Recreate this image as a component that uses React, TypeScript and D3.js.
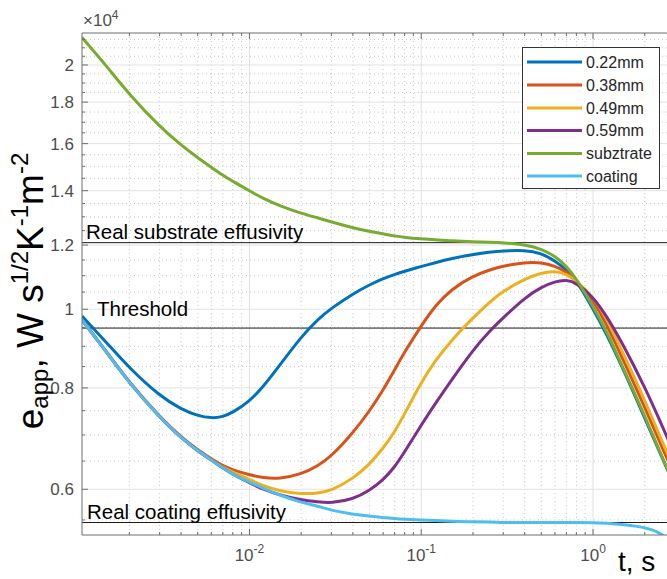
import React from "react";
import * as d3 from "d3";

// time axis, s
const times = [
  0.00106, 0.0015, 0.002, 0.003, 0.004, 0.005, 0.006, 0.007, 0.008, 0.01, 0.012, 0.015, 0.02,
  0.025, 0.03, 0.04, 0.05, 0.06, 0.07, 0.08, 0.1, 0.12, 0.15, 0.2, 0.25, 0.3, 0.4, 0.5, 0.6,
  0.7, 0.8, 1.0, 1.2, 1.5, 2.0, 2.5, 3.0,
];

// apparent effusivity, x1e4
const e022 = [
  0.981, 0.906, 0.846, 0.782, 0.753, 0.739, 0.734, 0.737, 0.746, 0.77, 0.802, 0.853, 0.925, 0.972,
  1.003, 1.045, 1.072, 1.091, 1.104, 1.114, 1.129, 1.141, 1.155, 1.168, 1.176, 1.18, 1.183, 1.173,
  1.147, 1.118, 1.087, 1.001, 0.932, 0.844, 0.734, 0.659, 0.604,
];
const e038 = [
  0.971, 0.882, 0.812, 0.737, 0.696, 0.671, 0.654, 0.641, 0.634, 0.625, 0.62, 0.618, 0.626,
  0.641, 0.659, 0.704, 0.749, 0.795, 0.842, 0.886, 0.954, 1.009, 1.059, 1.099, 1.118, 1.131,
  1.142, 1.142, 1.131, 1.112, 1.087, 1.027, 0.959, 0.866, 0.758, 0.678, 0.623,
];
const e049 = [
  0.97, 0.881, 0.811, 0.736, 0.694, 0.669, 0.652, 0.638, 0.63, 0.617, 0.606, 0.597, 0.592, 0.593,
  0.598, 0.618, 0.644, 0.674, 0.706, 0.743, 0.813, 0.863, 0.916, 0.976, 1.021, 1.053, 1.09, 1.109,
  1.115, 1.105, 1.084, 1.036, 0.976, 0.881, 0.773, 0.69, 0.633,
];
const e059 = [
  0.97, 0.881, 0.811, 0.736, 0.694, 0.669, 0.652, 0.637, 0.626, 0.611, 0.6, 0.59, 0.582, 0.579,
  0.577, 0.583, 0.598, 0.616, 0.639, 0.667, 0.72, 0.764, 0.818, 0.891, 0.94, 0.976, 1.033, 1.065,
  1.082, 1.087, 1.078, 1.036, 0.981, 0.904, 0.802, 0.722, 0.661,
];
const eSubstrate = [
  2.162, 1.985, 1.839, 1.679, 1.593, 1.537, 1.496, 1.462, 1.438, 1.399, 1.37, 1.341, 1.313, 1.296,
  1.281, 1.26, 1.247, 1.239, 1.231, 1.226, 1.221, 1.218, 1.214, 1.211, 1.209, 1.207, 1.202, 1.187,
  1.163, 1.131, 1.09, 1.009, 0.94, 0.846, 0.739, 0.661, 0.605,
];
const eCoating = [
  0.97, 0.881, 0.811, 0.736, 0.694, 0.669, 0.652, 0.637, 0.626, 0.612, 0.602, 0.59, 0.578, 0.572,
  0.565, 0.559, 0.556, 0.554, 0.552, 0.551, 0.55, 0.549, 0.548, 0.547, 0.547, 0.546, 0.546, 0.546,
  0.546, 0.546, 0.546, 0.546, 0.545, 0.543, 0.539, 0.53, 0.512,
];

const seriesValues = [e022, e038, e049, e059, eSubstrate, eCoating];
const seriesLabels = ["0.22mm", "0.38mm", "0.49mm", "0.59mm", "subztrate", "coating"];
const seriesColors = ["#0072BD", "#D95319", "#EDB120", "#7E2F8E", "#77AC30", "#4DBEEE"];

const refValues = [1.208, 0.948, 0.546];
const refLabels = ["Real substrate effusivity", "Threshold", "Real coating effusivity"];

const yTickValues = [0.6, 0.8, 1, 1.2, 1.4, 1.6, 1.8, 2];
const yTickLabels = ["0.6", "0.8", "1", "1.2", "1.4", "1.6", "1.8", "2"];
const yMinorTicks = [
  0.55, 0.65, 0.7, 0.75, 0.85, 0.9, 0.95, 1.05, 1.1, 1.15, 1.25, 1.3, 1.35, 1.45, 1.5, 1.55,
  1.65, 1.7, 1.75, 1.85, 1.9, 1.95, 2.05, 2.1, 2.15,
];
const xTickValues = [0.01, 0.1, 1];
const xTickExponents = ["-2", "-1", "0"];

const W = 667;
const H = 579;
const margin = { left: 82, top: 33, right: 675, bottom: 535 };
const font = "'Liberation Sans', Arial, Helvetica, sans-serif";

export default function App() {
  const x = d3.scaleLog().domain([0.00106, 3]).range([margin.left, margin.right]);
  const y = d3.scaleLog().domain([0.527, 2.19]).range([margin.bottom, margin.top]);

  // log minor ticks 2..9 per decade
  const xMinor: number[] = [];
  [0.001, 0.01, 0.1, 1].forEach((d) => {
    for (let k = 2; k <= 9; k++) {
      const v = d * k;
      if (v >= 0.00106 && v <= 3) xMinor.push(v);
    }
  });

  const line = d3
    .line<number>()
    .x((_, i) => x(times[i]))
    .y((d) => y(d))
    .curve(d3.curveBasis);

  const legendRows = [62, 85, 108, 130.5, 153.5, 176];

  return (
    <svg
      width={W}
      height={H}
      style={{ position: "absolute", left: 0, top: 0, background: "#fff", fontFamily: font }}
    >
      <defs>
        <clipPath id="plot">
          <rect x={margin.left} y={margin.top} width={margin.right - margin.left} height={margin.bottom - margin.top} />
        </clipPath>
      </defs>

      {/* grid */}
      <g>
        {xMinor.map((v) => (
          <line key={"xm" + v} x1={x(v)} x2={x(v)} y1={margin.top} y2={margin.bottom}
            stroke="#c8c8c8" strokeWidth={1} strokeDasharray="1 3" />
        ))}
        {yMinorTicks.map((v) => (
          <line key={"ym" + v} x1={margin.left} x2={margin.right} y1={y(v)} y2={y(v)}
            stroke="#c8c8c8" strokeWidth={1} strokeDasharray="1 3" />
        ))}
        {xTickValues.map((v) => (
          <line key={"xg" + v} x1={x(v)} x2={x(v)} y1={margin.top} y2={margin.bottom}
            stroke="#e2e2e2" strokeWidth={1} />
        ))}
        {yTickValues.map((v) => (
          <line key={"yg" + v} x1={margin.left} x2={margin.right} y1={y(v)} y2={y(v)}
            stroke="#e2e2e2" strokeWidth={1} />
        ))}
      </g>

      {/* reference lines */}
      {refValues.map((v) => (
        <line key={"r" + v} x1={margin.left} x2={margin.right} y1={y(v)} y2={y(v)} stroke="#1a1a1a" strokeWidth={1} />
      ))}

      {/* curves */}
      <g clipPath="url(#plot)">
        {seriesValues.map((vals, i) => (
          <path key={seriesLabels[i]} d={line(vals) || ""} fill="none" stroke={seriesColors[i]}
            strokeWidth={3} strokeLinejoin="round" />
        ))}
      </g>

      {/* annotations */}
      <text x={86} y={y(refValues[0]) - 4} fontSize={20.5} fill="#000">{refLabels[0]}</text>
      <text x={97} y={y(refValues[1]) - 12} fontSize={20.5} fill="#000">{refLabels[1]}</text>
      <text x={87} y={y(refValues[2]) - 4} fontSize={20.5} fill="#000">{refLabels[2]}</text>

      {/* axes box */}
      <g stroke="#6e6e6e" strokeWidth={1} fill="none">
        <line x1={margin.left} x2={margin.left} y1={margin.top} y2={margin.bottom} />
        <line x1={margin.left} x2={margin.right} y1={margin.bottom} y2={margin.bottom} />
        <line x1={margin.left} x2={margin.right} y1={margin.top} y2={margin.top} />
        {yTickValues.map((v) => (
          <line key={"yt" + v} x1={margin.left} x2={margin.left + 6} y1={y(v)} y2={y(v)} />
        ))}
        {yMinorTicks.map((v) => (
          <line key={"ymt" + v} x1={margin.left} x2={margin.left + 3} y1={y(v)} y2={y(v)} />
        ))}
        {xTickValues.map((v) => (
          <g key={"xt" + v}>
            <line x1={x(v)} x2={x(v)} y1={margin.bottom} y2={margin.bottom - 6} />
            <line x1={x(v)} x2={x(v)} y1={margin.top} y2={margin.top + 6} />
          </g>
        ))}
        {xMinor.map((v) => (
          <g key={"xmt" + v}>
            <line x1={x(v)} x2={x(v)} y1={margin.bottom} y2={margin.bottom - 3} />
            <line x1={x(v)} x2={x(v)} y1={margin.top} y2={margin.top + 3} />
          </g>
        ))}
      </g>

      {/* tick labels */}
      {yTickValues.map((v, i) => (
        <text key={"yl" + v} x={74} y={y(v)} dy="0.36em" textAnchor="end" fontSize={17} fill="#4d4d4d">
          {yTickLabels[i]}
        </text>
      ))}
      {xTickValues.map((v, i) => (
        <text key={"xl" + v} x={x(v)} y={561} textAnchor="middle" fontSize={17} fill="#4d4d4d">
          10<tspan fontSize={12} dy={-8}>{xTickExponents[i]}</tspan>
        </text>
      ))}
      <text x={83} y={26} fontSize={17} fill="#4d4d4d">
        ×10<tspan fontSize={12} dy={-7}>4</tspan>
      </text>

      {/* axis labels */}
      <text transform="translate(43,291) rotate(-90)" textAnchor="middle" fontSize={37} fill="#000">
        e<tspan fontSize={24} dy={5}>app</tspan>
        <tspan dy={-5}>, W s</tspan>
        <tspan fontSize={24} dy={-15}>1/2</tspan>
        <tspan dy={15}>K</tspan>
        <tspan fontSize={24} dy={-15}>-1</tspan>
        <tspan dy={15}>m</tspan>
        <tspan fontSize={24} dy={-15}>-2</tspan>
      </text>
      <text x={618} y={571} fontSize={28} fill="#000">t, s</text>

      {/* legend */}
      <rect x={522.5} y={47.5} width={137} height={141} fill="#fff" stroke="#333" strokeWidth={1} />
      {seriesLabels.map((s, i) => (
        <g key={"lg" + s}>
          <line x1={527} x2={582} y1={legendRows[i]} y2={legendRows[i]} stroke={seriesColors[i]} strokeWidth={3} />
          <text x={586} y={legendRows[i]} dy="0.36em" fontSize={16} fill="#262626">{s}</text>
        </g>
      ))}
    </svg>
  );
}
